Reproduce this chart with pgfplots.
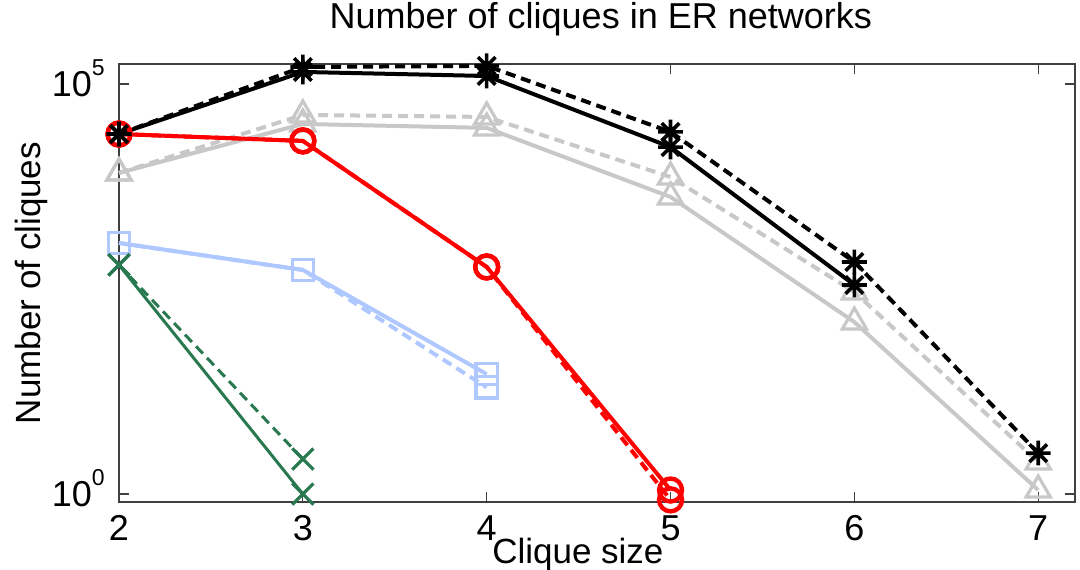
\documentclass[border=0pt]{standalone}
\usepackage{fontspec}
\setmainfont{Liberation Sans}
\usepackage{pgfplots}
\pgfplotsset{compat=1.18}

\pgfdeclareplotmark{mstar}{%
 \pgfpathmoveto{\pgfqpoint{-\pgfplotmarksize}{0pt}}\pgfpathlineto{\pgfqpoint{\pgfplotmarksize}{0pt}}%
 \pgfpathmoveto{\pgfqpoint{0pt}{-\pgfplotmarksize}}\pgfpathlineto{\pgfqpoint{0pt}{\pgfplotmarksize}}%
 \pgfpathmoveto{\pgfqpoint{-.7071\pgfplotmarksize}{-.7071\pgfplotmarksize}}\pgfpathlineto{\pgfqpoint{.7071\pgfplotmarksize}{.7071\pgfplotmarksize}}%
 \pgfpathmoveto{\pgfqpoint{-.7071\pgfplotmarksize}{.7071\pgfplotmarksize}}\pgfpathlineto{\pgfqpoint{.7071\pgfplotmarksize}{-.7071\pgfplotmarksize}}%
 \pgfusepathqstroke}

\definecolor{cgray}{RGB}{200,200,200}
\definecolor{cblue}{RGB}{175,200,255}
\definecolor{cgreen}{RGB}{40,120,80}

\newcommand{\tenpow}[1]{10\raisebox{10.5pt}{\fontsize{11.5}{11.5}\selectfont #1}}

\begin{document}
\begin{tikzpicture}
\useasboundingbox (-59.5pt,-33.5pt) rectangle (480.5pt,251pt);
\begin{axis}[
  scale only axis, width=478pt, height=219pt,
  ymode=log, xmin=2, xmax=7.2, ymin=0.8, ymax=1.75e5,
  xtick={2,3,4,5,6,7}, xticklabels={2,3,4,5,6,7},
  ytick={1,100000}, yticklabels={\tenpow{0},\tenpow{5}},
  yminorticks=false, xminorticks=false,
  tick align=inside, major tick length=5pt,
  axis line style={black!75, line width=0.6pt},
  every tick/.style={black!75, line width=0.6pt},
  font=\fontsize{17.5}{21}\selectfont,
  /pgf/number format/assume math mode=true,
  xticklabel style={anchor=north, inner sep=0pt, yshift=-6.5pt, font=\fontsize{18}{21}\selectfont},
  yticklabel style={anchor=base east, inner sep=0pt, xshift=-7pt, yshift=-6.3pt, font=\fontsize{18}{21}\selectfont},
  title={Number of cliques in ER networks},
  title style={at={(axis description cs:0.504,1)}, anchor=base, yshift=12pt, inner sep=0pt, font=\fontsize{18}{21}\selectfont},
  xlabel={Clique size},
  xlabel style={at={(axis description cs:0.48,0)}, anchor=base, yshift=-30.5pt, inner sep=0pt},
  ylabel={Number of cliques},
  ylabel style={at={(axis description cs:-0.0826,0.5)}, anchor=base, inner sep=0pt},
  clip=false,
]
% gray
\addplot[cgray, line width=2pt, mark=triangle, mark size=7pt, mark options={solid, line width=1.6pt}]
  coordinates {(2,8220)(3,32500)(4,29100)(5,4190)(6,125)(7,1.12)};
\addplot[cgray, line width=2pt, dash pattern=on 5pt off 3pt, mark=triangle, mark size=7pt, mark options={solid, line width=1.6pt}]
  coordinates {(2,8220)(3,41900)(4,39600)(5,7340)(6,291)(7,2.46)};
% blue
\addplot[cblue, line width=2pt, mark=square, mark size=5.3pt, mark options={solid, line width=1.6pt}]
  coordinates {(2,1150)(3,540)(4,29)};
\addplot[cblue, line width=2pt, dash pattern=on 5pt off 3pt, mark=square, mark size=5.3pt, mark options={solid, line width=1.6pt}]
  coordinates {(2,1150)(3,540)(4,20)};
% green
\addplot[cgreen, line width=1.5pt, mark=x, mark size=7.5pt, mark options={solid, line width=1.6pt}]
  coordinates {(2,621)(3,1.0)};
\addplot[cgreen, line width=1.5pt, dash pattern=on 5pt off 3pt, mark=x, mark size=7.5pt, mark options={solid, line width=1.6pt}]
  coordinates {(2,621)(3,2.67)};
% red
\addplot[red, line width=2pt, mark=o, mark size=5.75pt, mark options={solid, line width=2.2pt}]
  coordinates {(2,24500)(3,20200)(4,587)(5,1.12)};
\addplot[red, line width=2pt, dash pattern=on 5pt off 3pt, mark=o, mark size=5.75pt, mark options={solid, line width=2.2pt}]
  coordinates {(2,24500)(3,20200)(4,587)(5,0.85)};
% black
\addplot[black, line width=2pt, mark=mstar, mark size=6.2pt, mark options={solid, line width=1.8pt}]
  coordinates {(2,24500)(3,140000)(4,125000)(5,17000)(6,354)};
\addplot[black, line width=2pt, dash pattern=on 5pt off 3pt, mark=mstar, mark size=6.2pt, mark options={solid, line width=1.8pt}]
  coordinates {(2,24500)(3,161000)(4,166000)(5,26000)(6,675)(7,3.16)};
\end{axis}
\end{tikzpicture}
\end{document}
